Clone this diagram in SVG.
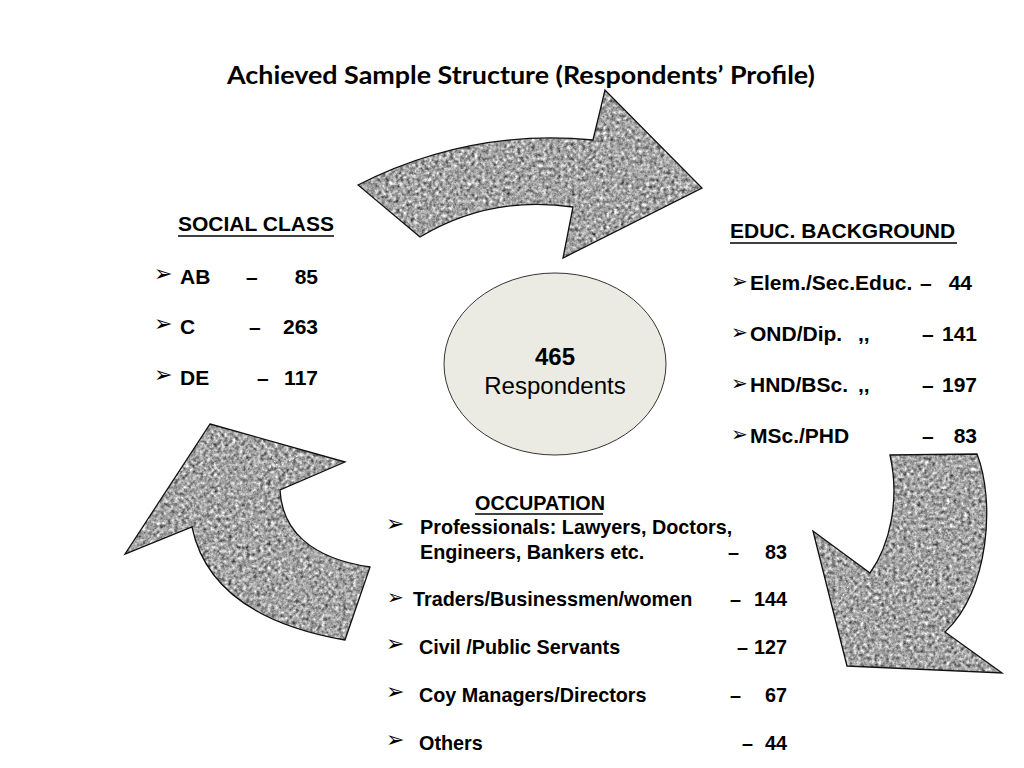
<svg xmlns="http://www.w3.org/2000/svg" xmlns:xlink="http://www.w3.org/1999/xlink" width="1024" height="768" viewBox="0 0 1024 768">
<style>
.t{font-family:"Liberation Sans",Arial,sans-serif;font-weight:bold;font-size:21px;fill:#000}
.o{font-family:"Liberation Sans",Arial,sans-serif;font-weight:bold;font-size:19.8px;fill:#000}
.b{font-family:"DejaVu Sans",sans-serif;font-size:22px;fill:#000}
.bs{font-family:"DejaVu Sans",sans-serif;font-size:20px;fill:#000}
.tex{fill:#000;filter:url(#granite)}
.edge{fill:none;stroke:#111;stroke-width:1.3;stroke-linejoin:miter}
.art{fill:none;stroke:#fff;stroke-width:1;stroke-dasharray:2 2}
.ul{stroke:#000;stroke-width:1.6}
</style>
<defs>
<filter id="granite" x="0%" y="0%" width="100%" height="100%" color-interpolation-filters="sRGB">
<feTurbulence type="fractalNoise" baseFrequency="0.28" numOctaves="3" seed="7" result="noise"/>
<feColorMatrix in="noise" type="matrix" values="0.33 0.33 0.33 0 0 0.33 0.33 0.33 0 0 0.33 0.33 0.33 0 0 0 0 0 0 1" result="gray"/>
<feComponentTransfer in="gray" result="c">
<feFuncR type="linear" slope="1.8" intercept="-0.25"/>
<feFuncG type="linear" slope="1.8" intercept="-0.25"/>
<feFuncB type="linear" slope="1.8" intercept="-0.25"/>
</feComponentTransfer>
<feComposite in="c" in2="SourceAlpha" operator="in"/>
</filter>
<path id="arrowTop" d="M358,185 Q470,128 593,140 L605,90 L702,188 L563,258 L573,207 Q490,195 420,237 Z"/>
<path id="arrowLeft" d="M210,424 L345,462 L280,490 C282,530 310,558 370,567 L345,640 C260,625 205,590 192,527 L125,554 Z"/>
<path id="arrowRight" d="M890,455 L977,454 C995,500 990,590 945,632 L1002,673 L847,666 L813,531 L870,573 C890,545 900,500 890,455 Z"/>
</defs>
<rect width="1024" height="768" fill="#fff"/>

<text x="227" y="84" font-family="Lato,'Open Sans',sans-serif" font-weight="bold" font-size="25" textLength="588" lengthAdjust="spacingAndGlyphs">Achieved Sample Structure (Respondents’ Profile)</text>

<g id="connectors">
<g id="arrow-top"><use xlink:href="#arrowTop" class="tex"/><use xlink:href="#arrowTop" class="edge"/></g>
<g id="arrow-right"><use xlink:href="#arrowRight" class="tex"/><use xlink:href="#arrowRight" class="edge"/><polyline class="art" points="850,583 835,610"/></g>
<g id="arrow-left"><use xlink:href="#arrowLeft" class="tex"/><use xlink:href="#arrowLeft" class="edge"/><polyline class="art" points="262,440 278,467 303,453"/></g>
</g>

<g id="center">
<ellipse cx="555" cy="364" rx="111" ry="91" fill="#ecebe3" stroke="#333" stroke-width="1"/>
<text x="555" y="365" text-anchor="middle" font-family="'Liberation Sans',Arial,sans-serif" font-weight="bold" font-size="24">465</text>
<text x="555" y="394" text-anchor="middle" font-family="'Liberation Sans',Arial,sans-serif" font-size="24">Respondents</text>
</g>

<g id="social-class">
<text class="t" x="178" y="231">SOCIAL CLASS</text>
<line class="ul" x1="178" y1="236" x2="334" y2="236"/>
<text class="b" x="154" y="281">➢</text><text class="t" x="180" y="284">AB</text><text class="t" x="246" y="284">–</text><text class="t" x="318" y="284" text-anchor="end">85</text>
<text class="b" x="154" y="331">➢</text><text class="t" x="180" y="334">C</text><text class="t" x="249" y="334">–</text><text class="t" x="318" y="334" text-anchor="end">263</text>
<text class="b" x="154" y="382">➢</text><text class="t" x="180" y="385">DE</text><text class="t" x="257" y="385">–</text><text class="t" x="318" y="385" text-anchor="end">117</text>
</g>

<g id="educ-background">
<text class="t" x="730" y="238">EDUC. BACKGROUND</text>
<line class="ul" x1="730" y1="243" x2="957" y2="243"/>
<text class="bs" x="731" y="288">➢</text><text class="t" x="750" y="290">Elem./Sec.Educ.</text><text class="t" x="920" y="290">–</text><text class="t" x="972" y="290" text-anchor="end">44</text>
<text class="bs" x="731" y="339">➢</text><text class="t" x="750" y="341">OND/Dip.</text><text class="t" x="858" y="341">,,</text><text class="t" x="922" y="341">–</text><text class="t" x="977" y="341" text-anchor="end">141</text>
<text class="bs" x="731" y="390">➢</text><text class="t" x="750" y="392">HND/BSc.</text><text class="t" x="858" y="392">,,</text><text class="t" x="922" y="392">–</text><text class="t" x="977" y="392" text-anchor="end">197</text>
<text class="bs" x="731" y="441">➢</text><text class="t" x="750" y="443">MSc./PHD</text><text class="t" x="922" y="443">–</text><text class="t" x="977" y="443" text-anchor="end">83</text>
</g>

<g id="occupation">
<text class="o" x="475" y="510">OCCUPATION</text>
<line class="ul" x1="475" y1="514" x2="603" y2="514"/>
<text class="b" x="386" y="531">➢</text><text class="o" x="420" y="534">Professionals: Lawyers, Doctors,</text>
<text class="o" x="420" y="559">Engineers, Bankers etc.</text><text class="o" x="728" y="559">–</text><text class="o" x="787" y="559" text-anchor="end">83</text>
<text class="bs" x="387" y="604">➢</text><text class="o" x="413" y="606">Traders/Businessmen/women</text><text class="o" x="730" y="606">–</text><text class="o" x="787" y="606" text-anchor="end">144</text>
<text class="b" x="386" y="651">➢</text><text class="o" x="419" y="654">Civil /Public Servants</text><text class="o" x="737" y="654">–</text><text class="o" x="787" y="654" text-anchor="end">127</text>
<text class="b" x="386" y="699">➢</text><text class="o" x="419" y="702">Coy Managers/Directors</text><text class="o" x="730" y="702">–</text><text class="o" x="787" y="702" text-anchor="end">67</text>
<text class="b" x="386" y="747">➢</text><text class="o" x="419" y="750">Others</text><text class="o" x="742" y="750">–</text><text class="o" x="787" y="750" text-anchor="end">44</text>
</g>
</svg>
